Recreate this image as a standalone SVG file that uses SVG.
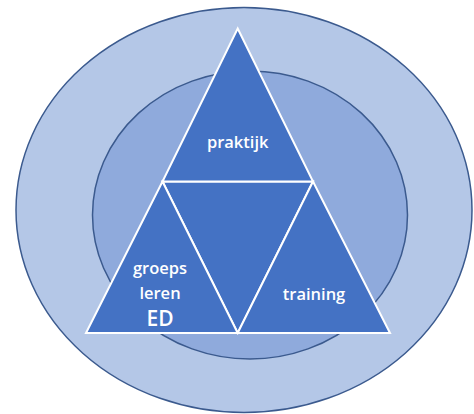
<svg xmlns="http://www.w3.org/2000/svg" width="474" height="414" viewBox="0 0 474 414">
  <style>
    .ring { stroke: #3B5A8E; stroke-width: 1.5; }
    .tri { fill: #4472C4; stroke: #FFFFFF; stroke-width: 2; stroke-linejoin: miter; }
    .lbl { font-family: "Open Sans", "Liberation Sans", sans-serif; font-size: 16.5px; font-weight: 600; fill: #FFFFFF; text-anchor: middle; }
    .big { font-size: 21px; font-weight: 600; }
  </style>
  <rect width="474" height="414" fill="#FFFFFF"/>
  <g id="outer-circle">
    <ellipse class="ring" cx="244" cy="210" rx="228" ry="202.5" fill="#B4C7E7"/>
  </g>
  <g id="inner-circle">
    <ellipse class="ring" cx="250" cy="215" rx="157.5" ry="144" fill="#8FAADC"/>
  </g>
  <g id="center">
    <polygon class="tri" points="162.5,181.5 313,181.5 237.7,333"/>
  </g>
  <g id="praktijk">
    <polygon class="tri" points="237.7,28.5 313,181.5 162.5,181.5"/>
    <text class="lbl" x="237.7" y="147.5">praktijk</text>
  </g>
  <g id="groeps-leren">
    <polygon class="tri" points="162.5,181.5 237.7,333 86,333"/>
    <text class="lbl" x="160" y="273.5">groeps</text>
    <text class="lbl" x="160" y="298.5">leren</text>
    <text class="lbl big" x="160" y="326">ED</text>
  </g>
  <g id="training">
    <polygon class="tri" points="313,181.5 390,333 237.7,333"/>
    <text class="lbl" x="314" y="300">training</text>
  </g>
  <g id="connectors"></g>
</svg>
